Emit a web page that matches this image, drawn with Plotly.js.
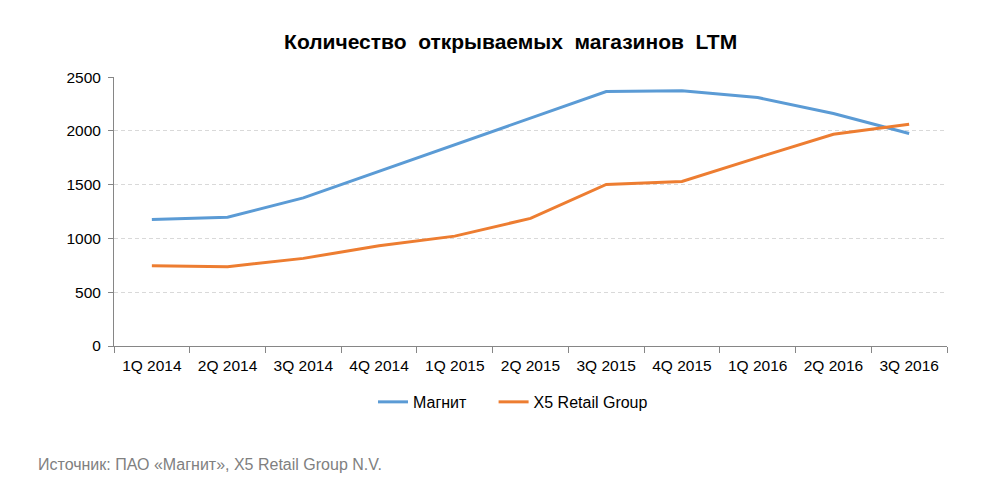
<!DOCTYPE html>
<html><head><meta charset="utf-8">
<script src="https://cdn.plot.ly/plotly-3.0.1.min.js"></script>
<style>body{margin:0;background:#fff}#c{width:982px;height:497px}</style>
</head><body><div id="c"></div>
<script>
const categories = ["1Q 2014","2Q 2014","3Q 2014","4Q 2014","1Q 2015","2Q 2015","3Q 2015","4Q 2015","1Q 2016","2Q 2016","3Q 2016"];
const magnit = [1177, 1198, 1378, 1625, 1868, 2113, 2367, 2375, 2311, 2162, 1976];
const x5 = [747, 738, 815, 932, 1022, 1187, 1503, 1530, 1752, 1970, 2062];
const seriesNames = ["Магнит", "X5 Retail Group"];
const titleWords = ["Количество", "открываемых", "магазинов", "LTM"];
const sourceText = "Источник: ПАО «Магнит», X5 Retail Group N.V.";

const font = "Arial, 'Liberation Sans', sans-serif";
const pad = "\u00a0\u00a0\u00a0\u00a0\u00a0";
const traces = [
  {x: categories, y: magnit, name: seriesNames[0] + pad, type: "scatter", mode: "lines",
   line: {color: "#5b9bd5", width: 3}},
  {x: categories, y: x5, name: seriesNames[1], type: "scatter", mode: "lines",
   line: {color: "#ed7d31", width: 3}}
];
const layout = {
  width: 982, height: 497,
  margin: {l: 114, r: 35, t: 77, b: 151},
  paper_bgcolor: "#fff", plot_bgcolor: "#fff",
  font: {family: font, size: 15, color: "#000"},
  title: {text: "<b>" + titleWords.join(" \u00a0") + "</b>", x: 0.52, xanchor: "center", y: 0.917, yanchor: "middle",
          font: {family: font, size: 21, color: "#000"}},
  xaxis: {type: "category", showgrid: false, showline: true, linecolor: "#868686", linewidth: 1,
          ticks: "outside", tickson: "boundaries", ticklen: 6, tickcolor: "#868686",
          tickfont: {size: 15.5}, ticklabelstandoff: 5, fixedrange: true, range: [-0.5, 10.5]},
  yaxis: {range: [0, 2502], tickvals: [0, 500, 1000, 1500, 2000, 2500], showgrid: true, gridcolor: "#d9d9d9", griddash: "4px,3px",
          showline: true, linecolor: "#868686", linewidth: 1, ticks: "outside", ticklen: 5,
          tickcolor: "#868686", tickfont: {size: 15.5}, ticklabelstandoff: 4, zeroline: false, fixedrange: true},
  showlegend: true,
  legend: {orientation: "h", x: 0.479, xref: "paper", xanchor: "center", y: -0.208, yanchor: "middle",
           font: {size: 16}},
  annotations: [{text: sourceText, xref: "paper", yref: "paper", x: -0.094, xanchor: "left",
                 y: -0.442, yanchor: "middle", showarrow: false,
                 font: {family: font, size: 16, color: "#808080"}}]
};
Plotly.newPlot("c", traces, layout, {displayModeBar: false, staticPlot: true});
</script></body></html>
